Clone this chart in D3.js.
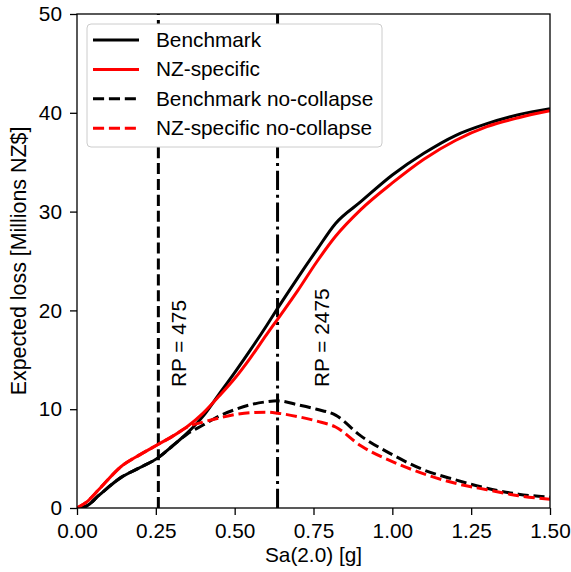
<!DOCTYPE html>
<html lang="en">
<head>
    <meta charset="utf-8">
    <script src="https://d3js.org/d3.v7.min.js"></script>
    <style type="text/css">
        body { margin: 0; background: #fff; }
        svg { display: block; background: #fff; font-family: "Liberation Sans", Arial, sans-serif; }
        .tick text { font-size: 20.8px; fill: #000; }
        .label { font-size: 20.8px; fill: #000; }
    </style>
</head>
<body>
<svg width="571" height="572"></svg>

<script type="text/javascript">

    // Sa(2.0) [g] sample points
    var sa = [0, 0.03, 0.07, 0.14, 0.2, 0.258, 0.3, 0.35, 0.4, 0.45, 0.5, 0.55, 0.6, 0.636, 0.7, 0.76, 0.82, 0.9, 1.0, 1.1, 1.2, 1.3, 1.4, 1.5];

    // expected loss [Millions NZ$]
    var benchmark      = [0, 0.2, 1.3, 3.1, 4.1, 5.1, 6.2, 7.6, 9.3, 11.5, 13.7, 16.0, 18.4, 20.2, 23.3, 26.1, 28.8, 31.0, 33.7, 35.9, 37.7, 38.9, 39.8, 40.4];
    var nzSpecific     = [0, 0.6, 1.9, 4.2, 5.4, 6.45, 7.2, 8.25, 9.6, 11.3, 13.1, 15.2, 17.5, 19.1, 22.0, 24.9, 27.5, 30.2, 32.9, 35.3, 37.2, 38.6, 39.5, 40.2];
    var benchmarkNoCol = [0, 0.2, 1.3, 3.1, 4.1, 5.1, 6.2, 7.5, 8.4, 9.3, 9.95, 10.45, 10.75, 10.85, 10.45, 10.0, 9.4, 7.3, 5.4, 3.85, 2.85, 2.0, 1.4, 1.1];
    var nzSpecificNoCol = [0, 0.6, 1.9, 4.2, 5.4, 6.45, 7.2, 8.2, 8.7, 9.1, 9.45, 9.65, 9.7, 9.6, 9.25, 8.8, 8.2, 6.3, 4.7, 3.45, 2.5, 1.85, 1.25, 0.88];

    var xTicks = [0, 0.25, 0.5, 0.75, 1.0, 1.25, 1.5];
    var yTicks = [0, 10, 20, 30, 40, 50];

    // return period markers
    var rpLines = [
        {sa: 0.258, text: "RP = 475", tx: 0.346, ty: 12.25, dash: "11.1,4.8"},
        {sa: 0.636, text: "RP = 2475", tx: 0.8, ty: 12.25, dash: "19.2,4.8,3,4.8"}
    ];

    var series = [
        {name: "Benchmark", values: benchmark, color: "#000", dash: null},
        {name: "NZ-specific", values: nzSpecific, color: "#ff0000", dash: null},
        {name: "Benchmark no-collapse", values: benchmarkNoCol, color: "#000", dash: "11.1,4.8"},
        {name: "NZ-specific no-collapse", values: nzSpecificNoCol, color: "#ff0000", dash: "11.1,4.8"}
    ];

    var svg = d3.select("svg");
    var margin = {left: 77, right: 21, top: 14, bottom: 64};
    var width = 571 - margin.left - margin.right,
        height = 572 - margin.top - margin.bottom;

    var x = d3.scaleLinear().domain([0, 1.5]).range([0, width]);
    var y = d3.scaleLinear().domain([0, 50]).range([height, 0]);

    var g = svg.append("g").attr("transform", "translate(" + margin.left + "," + margin.top + ")");

    g.append("defs").append("clipPath").attr("id", "clip")
        .append("rect").attr("width", width).attr("height", height);

    var plot = g.append("g").attr("clip-path", "url(#clip)");

    // vertical return period lines
    plot.selectAll(".rp")
        .data(rpLines)
        .enter()
        .append("line")
        .attr("class", "rp")
        .attr("x1", function (d) {return x(d.sa);})
        .attr("x2", function (d) {return x(d.sa);})
        .attr("y1", y(0))
        .attr("y2", y(50))
        .attr("stroke", "#000")
        .attr("stroke-width", 3)
        .attr("stroke-dasharray", function (d) {return d.dash;});

    var line = d3.line()
        .x(function (d, i) {return x(sa[i]);})
        .y(function (d) {return y(d);})
        .curve(d3.curveMonotoneX);

    plot.selectAll(".curve")
        .data(series)
        .enter()
        .append("path")
        .attr("class", "curve")
        .attr("d", function (d) {return line(d.values);})
        .attr("fill", "none")
        .attr("stroke", function (d) {return d.color;})
        .attr("stroke-width", 3)
        .attr("stroke-dasharray", function (d) {return d.dash;});

    // RP labels
    g.selectAll(".rplabel")
        .data(rpLines)
        .enter()
        .append("text")
        .attr("class", "label rplabel")
        .attr("transform", function (d) {return "translate(" + x(d.tx) + "," + y(d.ty) + ") rotate(-90)";})
        .text(function (d) {return d.text;});

    // axes
    var xAxis = g.append("g")
        .attr("transform", "translate(0," + height + ")")
        .call(d3.axisBottom(x).tickValues(xTicks).tickFormat(d3.format(".2f")).tickSize(7).tickPadding(8));
    var yAxis = g.append("g")
        .call(d3.axisLeft(y).tickValues(yTicks).tickFormat(d3.format("d")).tickSize(7).tickPadding(8));

    [xAxis, yAxis].forEach(function (a) {
        a.select(".domain").remove();
        a.selectAll(".tick line").attr("stroke", "#000").attr("stroke-width", 1.3);
    });

    g.append("rect")
        .attr("width", width)
        .attr("height", height)
        .attr("fill", "none")
        .attr("stroke", "#000")
        .attr("stroke-width", 1.3);

    // axis titles
    svg.append("text")
        .attr("class", "label")
        .attr("x", margin.left + width / 2)
        .attr("y", 562)
        .attr("text-anchor", "middle")
        .text("Sa(2.0) [g]");

    svg.append("text")
        .attr("class", "label")
        .style("font-size", "21.4px")
        .attr("transform", "translate(26," + (margin.top + height / 2) + ") rotate(-90)")
        .attr("text-anchor", "middle")
        .text("Expected loss [Millions NZ$]");

    // legend
    var legend = svg.append("g").attr("transform", "translate(87,24)");
    legend.append("rect")
        .attr("width", 295)
        .attr("height", 123)
        .attr("rx", 4)
        .attr("fill", "#fff")
        .attr("stroke", "#cccccc")
        .attr("stroke-width", 1);

    var item = legend.selectAll(".item")
        .data(series)
        .enter()
        .append("g")
        .attr("class", "item")
        .attr("transform", function (d, i) {return "translate(0," + (16 + i * 29.4) + ")";});

    item.append("line")
        .attr("x1", 6).attr("x2", 52)
        .attr("stroke", function (d) {return d.color;})
        .attr("stroke-width", 3)
        .attr("stroke-dasharray", function (d) {return d.dash;});

    item.append("text")
        .attr("class", "label")
        .attr("x", 69)
        .attr("y", 7)
        .text(function (d) {return d.name;});

</script>
</body>
</html>
